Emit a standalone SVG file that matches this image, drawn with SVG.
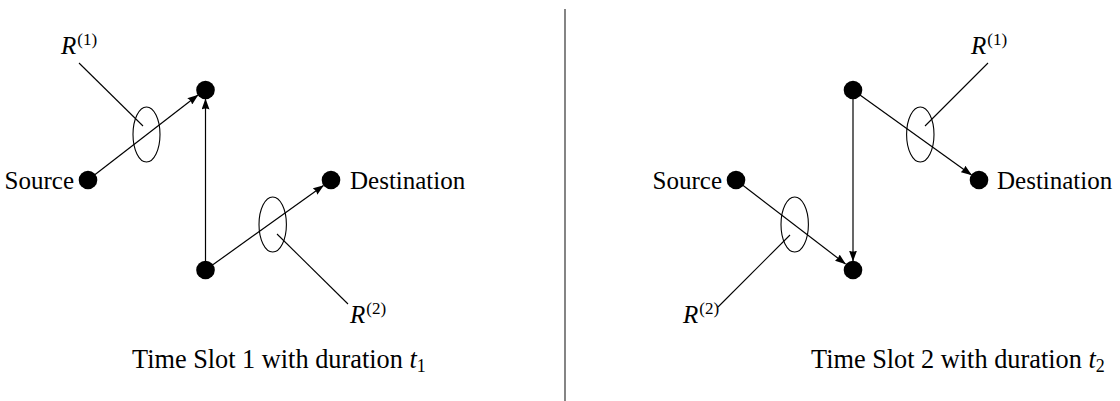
<svg xmlns="http://www.w3.org/2000/svg" width="1120" height="401" viewBox="0 0 1120 401">
<style>
  .lbl { font-family: "Liberation Serif", "DejaVu Serif", serif; font-size: 25px; fill: #000; }
  .cap { font-family: "Liberation Serif", "DejaVu Serif", serif; font-size: 26.3px; fill: #000; }
  .math { font-family: "Liberation Serif", "DejaVu Serif", serif; font-style: italic; font-size: 25px; fill: #000; }
  .sup { font-family: "Liberation Serif", "DejaVu Serif", serif; font-style: normal; font-size: 17px; }
  .node { fill: #000; }
  .edge { stroke: #000; stroke-width: 1.2; fill: none; }
  .ell { stroke: #000; stroke-width: 1.1; fill: none; }
  .lead { stroke: #000; stroke-width: 1.1; fill: none; }
  .divider { stroke: #333; stroke-width: 1.2; }
</style>
<defs>
  <marker id="arrow" viewBox="0 0 11 8" refX="10.5" refY="4" markerWidth="11" markerHeight="8" markerUnits="userSpaceOnUse" orient="auto">
    <path d="M0,0 L11,4 L0,8 Q2,4 0,0 Z" fill="#000"/>
  </marker>
</defs>
<rect width="1120" height="401" fill="#fff"/>

<g id="connectors">
  <!-- left panel -->
  <line class="edge" x1="88" y1="180" x2="198" y2="95" marker-end="url(#arrow)"/>
  <line class="edge" x1="205.5" y1="270" x2="205.5" y2="99" marker-end="url(#arrow)"/>
  <line class="edge" x1="205.5" y1="270" x2="323.5" y2="185.5" marker-end="url(#arrow)"/>
  <!-- right panel -->
  <line class="edge" x1="853" y1="90" x2="971.5" y2="175" marker-end="url(#arrow)"/>
  <line class="edge" x1="853" y1="90" x2="853" y2="261" marker-end="url(#arrow)"/>
  <line class="edge" x1="736" y1="180" x2="845.5" y2="264" marker-end="url(#arrow)"/>
</g>

<g id="rate-annotations">
  <ellipse class="ell" cx="146.5" cy="134.5" rx="13.5" ry="27.5"/>
  <line class="lead" x1="79" y1="63" x2="143" y2="126"/>
  <ellipse class="ell" cx="272.7" cy="224.5" rx="13.7" ry="27.5"/>
  <line class="lead" x1="277" y1="234" x2="348" y2="304"/>
  <ellipse class="ell" cx="920.3" cy="134.5" rx="13.7" ry="27.5"/>
  <line class="lead" x1="988" y1="63" x2="925" y2="126"/>
  <ellipse class="ell" cx="794.7" cy="224.5" rx="13.7" ry="27.5"/>
  <line class="lead" x1="790" y1="235" x2="718" y2="307"/>
</g>

<g id="slot1">
  <g id="s1-source"><circle class="node" cx="88" cy="180" r="9.3"/><text class="lbl" x="74" y="189" text-anchor="end">Source</text></g>
  <g id="s1-relay-top"><circle class="node" cx="205.5" cy="90" r="9.3"/></g>
  <g id="s1-relay-bottom"><circle class="node" cx="205.5" cy="270" r="9.3"/></g>
  <g id="s1-destination"><circle class="node" cx="331" cy="180" r="9.3"/><text class="lbl" x="350" y="189">Destination</text></g>
  <text class="math" x="61" y="54">R<tspan class="sup" dx="1" dy="-9">(1)</tspan></text>
  <text class="math" x="350" y="323">R<tspan class="sup" dx="1" dy="-9">(2)</tspan></text>
  <text class="cap" x="132" y="368">Time Slot 1 with duration <tspan font-style="italic">t</tspan><tspan font-size="18" dy="4">1</tspan></text>
</g>

<line id="divider" class="divider" x1="565" y1="9" x2="565" y2="401"/>

<g id="slot2">
  <g id="s2-source"><circle class="node" cx="736" cy="180" r="9.3"/><text class="lbl" x="722" y="189" text-anchor="end">Source</text></g>
  <g id="s2-relay-top"><circle class="node" cx="853" cy="90" r="9.3"/></g>
  <g id="s2-relay-bottom"><circle class="node" cx="853" cy="270" r="9.3"/></g>
  <g id="s2-destination"><circle class="node" cx="979" cy="180" r="9.3"/><text class="lbl" x="997" y="189">Destination</text></g>
  <text class="math" x="971" y="54">R<tspan class="sup" dx="1" dy="-9">(1)</tspan></text>
  <text class="math" x="683" y="323">R<tspan class="sup" dx="1" dy="-9">(2)</tspan></text>
  <text class="cap" x="811" y="368">Time Slot 2 with duration <tspan font-style="italic">t</tspan><tspan font-size="18" dy="4">2</tspan></text>
</g>
</svg>
